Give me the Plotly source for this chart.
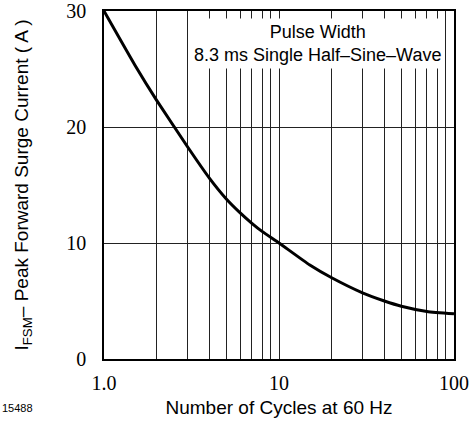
import plotly.graph_objects as go

# Data
cycles = [1, 1.5, 2, 3, 4, 5, 6, 7, 8, 10, 15, 20, 30, 40, 50, 70, 100]
surge_current = [30.0, 25.35, 22.3, 18.3, 15.6, 13.8, 12.6, 11.7, 11.0, 10.0, 8.1, 7.0, 5.7, 5.0, 4.55, 4.1, 3.9]

x_tick_vals = [1, 10, 100]
x_tick_text = ["1.0", "10", "100"]
x_minor_vals = [2, 3, 4, 5, 6, 7, 8, 9, 20, 30, 40, 50, 60, 70, 80, 90]
y_tick_vals = [0, 10, 20, 30]

serif = "Liberation Serif, Times New Roman, serif"
sans = "Liberation Sans, Arial, Helvetica, sans-serif"

fig = go.Figure()
fig.add_trace(go.Scatter(
    x=cycles, y=surge_current, mode="lines",
    line=dict(color="black", width=3, shape="spline", smoothing=0.5),
    showlegend=False, hoverinfo="skip",
))

fig.update_layout(
    width=469, height=428,
    margin=dict(l=104, r=15, t=11, b=69, autoexpand=False),
    paper_bgcolor="white", plot_bgcolor="white",
    showlegend=False,
)

fig.update_xaxes(
    type="log", range=[0, 2], automargin=False,
    tickvals=x_tick_vals, ticktext=x_tick_text,
    tickfont=dict(family=serif, size=20, color="black"),
    ticks="", ticklabelstandoff=5,
    showgrid=True, gridcolor="#222", gridwidth=1,
    minor=dict(tickvals=x_minor_vals, showgrid=True, gridcolor="#222", gridwidth=1, ticks=""),
    showline=True, linecolor="black", linewidth=1.5, mirror=True,
    zeroline=False,
    title=dict(text="Number of Cycles at 60 Hz", font=dict(family=sans, size=19, color="black"), standoff=8),
)
fig.update_yaxes(
    range=[0, 30], automargin=False,
    tickvals=y_tick_vals,
    tickfont=dict(family=serif, size=20, color="black"),
    ticks="", ticklabelstandoff=12,
    showgrid=True, gridcolor="#222", gridwidth=1,
    showline=True, linecolor="black", linewidth=1.5, mirror=True,
    zeroline=False,
    title=dict(text="I<sub>FSM</sub>– Peak Forward Surge Current ( A )",
               font=dict(family=sans, size=19, color="black"), standoff=33),
)

fig.add_annotation(
    xref="paper", yref="paper", x=0.611, y=0.906,
    xanchor="center", yanchor="middle",
    text="Pulse Width<br>8.3 ms Single Half–Sine–Wave",
    showarrow=False, align="center",
    font=dict(family=sans, size=18, color="black"),
    bgcolor="white", borderpad=3,
)
fig.add_annotation(
    xref="paper", yref="paper", x=-0.297, y=-0.14,
    xanchor="left", yanchor="middle",
    text="15488", showarrow=False,
    font=dict(family=sans, size=11, color="black"),
)

fig.write_html("out.html", config={"displayModeBar": False},
               post_script="document.body.style.margin='0';")
